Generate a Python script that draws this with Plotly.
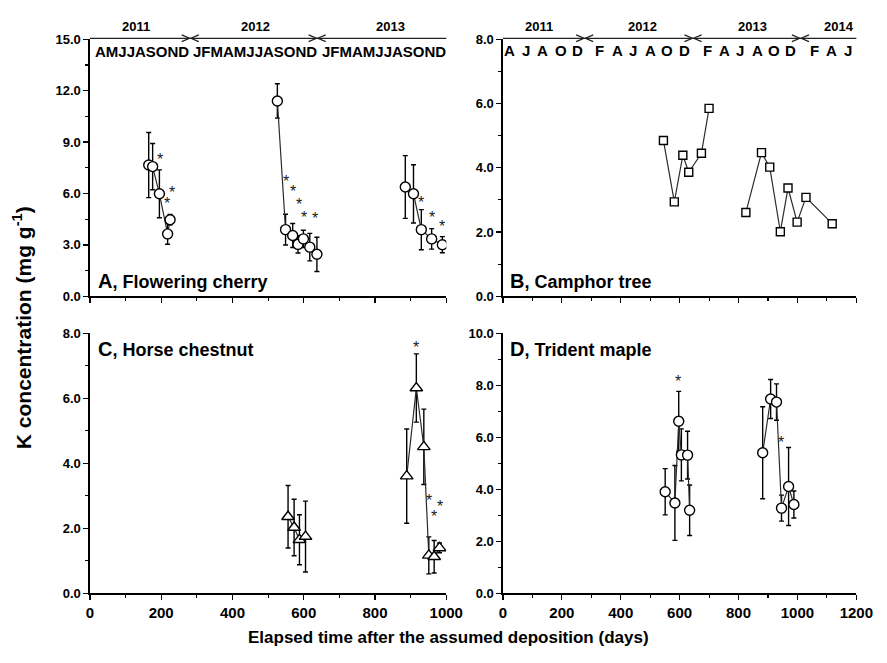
import plotly.graph_objects as go

# ---------------- data ----------------
# Panel A: Flowering cherry (circles)
A_days_1 = [165, 176, 195, 218, 225]
A_k_1 = [7.66, 7.57, 5.98, 3.64, 4.47]
A_err_1 = [1.9, 1.35, 1.4, 0.6, 0.3]
A_days_2 = [526, 549, 569, 584, 599, 617, 637]
A_k_2 = [11.4, 3.89, 3.55, 3.03, 3.35, 2.87, 2.45]
A_err_2 = [1.0, 0.9, 0.7, 0.5, 0.5, 0.8, 1.0]
A_days_3 = [885, 908, 930, 959, 989]
A_k_3 = [6.38, 5.98, 3.89, 3.35, 3.01]
A_err_3 = [1.83, 1.7, 1.17, 0.6, 0.47]
A_star_days = [197, 231, 216, 549, 569, 587, 601, 633, 928, 960, 987]
A_star_k = [8.14, 6.22, 5.59, 6.86, 6.32, 5.52, 4.79, 4.73, 5.65, 4.75, 4.27]

# Panel B: Camphor tree (squares, no error bars)
B_days_1 = [545, 582, 611, 631, 674, 700]
B_k_1 = [4.85, 2.94, 4.39, 3.86, 4.45, 5.85]
B_days_2 = [825, 878, 906, 942, 968, 999, 1029, 1118]
B_k_2 = [2.61, 4.47, 4.02, 2.01, 3.37, 2.31, 3.08, 2.26]

# Panel C: Horse chestnut (triangles)
C_days_1 = [556, 573, 588, 605]
C_k_1 = [2.36, 2.03, 1.65, 1.75]
C_err_1 = [0.96, 0.87, 0.77, 1.09]
C_days_2 = [889, 916, 937, 951, 966, 981]
C_k_2 = [3.61, 6.32, 4.51, 1.17, 1.13, 1.40]
C_err_2 = [1.45, 1.05, 1.16, 0.57, 0.5, 0.15]
C_star_days = [915, 952, 983, 966]
C_star_k = [7.67, 2.96, 2.76, 2.47]

# Panel D: Trident maple (circles)
D_days_1 = [551, 584, 597, 606, 627, 634]
D_k_1 = [3.91, 3.48, 6.62, 5.33, 5.32, 3.2]
D_err_1 = [0.89, 1.44, 1.15, 1.0, 0.92, 0.97]
D_days_2 = [882, 909, 929, 946, 970, 988]
D_k_2 = [5.41, 7.48, 7.36, 3.28, 4.11, 3.42]
D_err_2 = [1.77, 0.75, 0.7, 0.5, 1.5, 0.52]
D_star_days = [594, 944]
D_star_k = [8.27, 5.92]

# Timeline labels
A_years = ["2011", "2012", "2013"]
A_months = ["AMJJASOND", "JFMAMJJASOND", "JFMAMJJASOND"]
B_years = ["2011", "2012", "2013", "2014"]
B_months = list("AJAODFAJAODFAJAODFAJ")

# ---------------- layout helpers ----------------
W, H = 887, 663
def fx(p): return p / W
def fy(p): return 1 - p / H

FONT = "Liberation Sans, Arial, sans-serif"
NARROW = "Liberation Sans Narrow, Arial Narrow, Liberation Sans, sans-serif"

fig = go.Figure()

def add_series(days, k, err, xa, ya, symbol, size):
    kw = {}
    if err is not None:
        kw["error_y"] = dict(type="data", array=err, visible=True, color="black",
                             thickness=1.4, width=2.5)
    fig.add_trace(go.Scatter(
        x=days, y=k, xaxis=xa, yaxis=ya, mode="lines+markers",
        line=dict(color="#2b2b2b", width=1.2),
        marker=dict(symbol=symbol, size=size, color="white",
                    line=dict(color="black", width=1.4)),
        showlegend=False, hoverinfo="skip", **kw))

add_series(A_days_1, A_k_1, A_err_1, "x", "y", "circle", 10)
add_series(A_days_2, A_k_2, A_err_2, "x", "y", "circle", 10)
add_series(A_days_3, A_k_3, A_err_3, "x", "y", "circle", 10)
add_series(B_days_1, B_k_1, None, "x2", "y2", "square", 8)
add_series(B_days_2, B_k_2, None, "x2", "y2", "square", 8)
add_series(C_days_1, C_k_1, C_err_1, "x3", "y3", "triangle-up", 11)
add_series(C_days_2, C_k_2, C_err_2, "x3", "y3", "triangle-up", 11)
add_series(D_days_1, D_k_1, D_err_1, "x4", "y4", "circle", 10)
add_series(D_days_2, D_k_2, D_err_2, "x4", "y4", "circle", 10)

annotations = []
def add_stars(days, k, xa, ya):
    for d, v in zip(days, k):
        annotations.append(dict(x=d, y=v, xref=xa, yref=ya, text="*", showarrow=False,
                                font=dict(family=FONT, size=16, color="#1a1a1a"),
                                xanchor="center", yanchor="middle", yshift=-3))
add_stars(A_star_days, A_star_k, "x", "y")
add_stars(C_star_days, C_star_k, "x3", "y3")
add_stars(D_star_days, D_star_k, "x4", "y4")

def axis(domain, rng, dtick, minor, anchor, labels=True, fmt=None, font=FONT, size=13):
    d = dict(domain=domain, range=rng, dtick=dtick, tick0=0, anchor=anchor,
             showline=True, linecolor="black", linewidth=1.5, ticks="outside",
             ticklen=5, tickwidth=1.3, tickcolor="black", showgrid=False,
             zeroline=False, showticklabels=labels, fixedrange=True,
             minor=dict(dtick=minor, ticks="outside", ticklen=3, tickwidth=1.1,
                        tickcolor="black", showgrid=False),
             tickfont=dict(family=font, size=size, color="black", weight="bold"))
    if fmt:
        d["tickformat"] = fmt
    return d

xL = [fx(88), fx(453)]
xR = [fx(511), fx(873)]
yT = [fy(296), fy(33)]
yB = [fy(600), fy(334)]

fig.update_layout(
    width=W, height=H, autosize=False,
    margin=dict(l=0, r=0, t=0, b=0),
    paper_bgcolor="white", plot_bgcolor="white",
    xaxis=axis(xL, [0, 1000], 200, 100, "y", labels=False),
    yaxis=axis(yT, [0, 15], 3, 1.5, "x", fmt=".1f"),
    xaxis2=axis(xR, [0, 1200], 200, 100, "y2", labels=False),
    yaxis2=axis(yT, [0, 8], 2, 1, "x2", fmt=".1f"),
    xaxis3=axis(xL, [0, 1000], 200, 100, "y3", font=NARROW, size=15),
    yaxis3=axis(yB, [0, 8], 2, 1, "x3", fmt=".1f"),
    xaxis4=axis(xR, [0, 1200], 200, 100, "y4", font=NARROW, size=15),
    yaxis4=axis(yB, [0, 10], 2, 1, "x4", fmt=".1f"),
)

# ---------------- timeline (years, arrows, months) ----------------
shapes = []
LINE = dict(color="#222", width=1.3)
def hline(x0, x1, y):
    shapes.append(dict(type="line", xref="paper", yref="paper", x0=fx(x0), x1=fx(x1),
                       y0=fy(y), y1=fy(y), line=LINE))
def arrow(x, y, direction):
    # direction +1 -> '>' tip at x ; -1 -> '<' tip at x
    bx = x - 8 * direction
    path = f"M {fx(bx)},{fy(y-3.5)} L {fx(x)},{fy(y)} L {fx(bx)},{fy(y+3.5)}"
    shapes.append(dict(type="path", xref="paper", yref="paper", path=path, line=LINE))

TY = 32
hline(88, 453, TY)
for xt in (190, 320):
    arrow(xt, TY, 1)
    arrow(xt + 1.5, TY, -1)
hline(511, 873, TY)
for xt in (594, 705, 815):
    arrow(xt, TY, 1)
    arrow(xt + 1.5, TY, -1)

def label(x, y, text, size, anchor="center"):
    annotations.append(dict(x=fx(x), y=fy(y), xref="paper", yref="paper", text=text,
                            showarrow=False, xanchor=anchor, yanchor="middle",
                            font=dict(family=FONT, size=size, color="black", weight="bold")))

for yr, xc in zip(A_years, [135, 258, 396]):
    label(xc, 20, yr, 13)
for mo, xc in zip(A_months, [141, 257, 389]):
    label(xc, 46, mo, 15)
for yr, xc in zip(B_years, [548, 654, 767, 855]):
    label(xc, 20, yr, 13)
B_month_px = [518, 535, 552, 570, 587, 610, 628, 644, 662, 679, 697,
              721, 738, 754, 772, 789, 806, 830, 848, 864]
for mo, xc in zip(B_months, B_month_px):
    label(xc, 45, mo, 15)

# panel labels
def panel_label(x, y, letter, name):
    annotations.append(dict(x=fx(x), y=fy(y), xref="paper", yref="paper",
                            text=f"<span style='font-size:20px'>{letter}</span>, {name}",
                            showarrow=False, xanchor="left", yanchor="middle",
                            font=dict(family=FONT, size=18, color="black", weight="bold")))
panel_label(94, 280, "A", "Flowering cherry")
panel_label(516, 280, "B", "Camphor tree")
panel_label(94, 350, "C", "Horse chestnut")
panel_label(516, 350, "D", "Trident maple")

# axis titles
annotations.append(dict(x=fx(18), y=fy(328), xref="paper", yref="paper",
                        text="K concentration (mg g<sup>-1</sup>)", textangle=-90,
                        showarrow=False, xanchor="center", yanchor="middle",
                        font=dict(family=FONT, size=21, color="black", weight="bold")))
annotations.append(dict(x=fx(455), y=fy(645), xref="paper", yref="paper",
                        text="Elapsed time after the assumed deposition (days)",
                        showarrow=False, xanchor="center", yanchor="middle",
                        font=dict(family=NARROW, size=17, color="black", weight="bold")))

fig.update_layout(shapes=shapes, annotations=annotations)
# remove the default page margin / scrollbars so the 887x663 figure fills the window exactly
fig.write_html(
    "out.html",
    config={"displayModeBar": False, "staticPlot": True},
    post_script=("document.documentElement.style.overflow='hidden';"
                 "document.body.style.overflow='hidden';"
                 "document.body.style.margin='0px';"),
)
